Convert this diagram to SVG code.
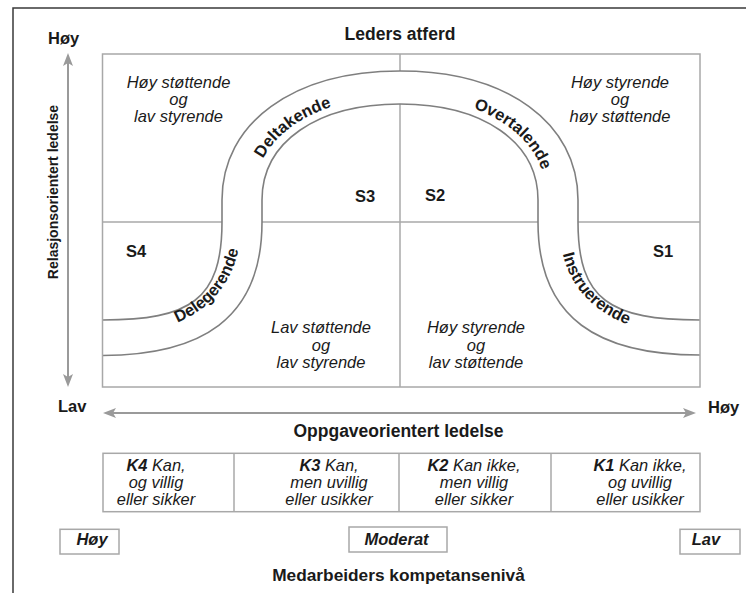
<svg xmlns="http://www.w3.org/2000/svg" width="746" height="593" viewBox="0 0 746 593">
<defs>
<style>
.t{font-family:"Liberation Sans",Arial,sans-serif;fill:#1a1a1a}
.b{font-weight:bold}
.i{font-style:italic}
.grid{stroke:#a8a8a8;stroke-width:1.5;fill:none}
.curve{stroke:#7f7f7f;stroke-width:1.6;fill:none}
.ax{stroke:#9a9a9a;stroke-width:2;fill:none}
.q{font-size:16.5px;text-anchor:middle}
.s{font-size:16.5px;text-anchor:middle}
.band{font-size:16.5px}
.k{font-size:16.4px;text-anchor:middle}
</style>
<marker id="ah" markerUnits="userSpaceOnUse" markerWidth="14" markerHeight="11" refX="3" refY="5" orient="auto-start-reverse" viewBox="0 0 14 10">
<path d="M0,0 L13,5 L0,10 L3,5 z" fill="#9a9a9a"/>
</marker>
<path id="pA" d="M102.5,336 C184,336 241,300 241,222"/>
<path id="pC" d="M253,222 L253,200 C253,138 312,97 400,97"/>
<path id="pC2" d="M400,97 C488,97 547,138 547,200 L547,222"/>
<path id="pA2" d="M559,222 C559,300 616,336 700,336"/>
</defs>
<rect width="746" height="593" fill="#ffffff"/>
<path d="M13,593 L13,8 L746,8" stroke="#3a3a3a" stroke-width="1.5" fill="none"/>

<g id="title">
<text class="t b" x="400" y="39.5" font-size="17.5" text-anchor="middle">Leders atferd</text>
</g>

<g id="grid">
<line class="grid" x1="400" y1="54" x2="400" y2="387"/>
<line class="grid" x1="102.5" y1="222" x2="700" y2="222"/>
</g>

<g id="band">
<path d="M102.5,320 C190,320 222,300 222,222 L222,200 C222,123 293,71 400,71 C507,71 578,123 578,200 L578,222 C578,300 610,320 700,320 L700,355 C600,355 538,320 538,222 L538,200 C538,142 483,104 400,104 C317,104 262,142 262,200 L262,222 C262,320 200,355 102.5,355.5 Z" fill="#ffffff"/>
<path class="curve" d="M102.5,320 C190,320 222,300 222,222 L222,200 C222,123 293,71 400,71 C507,71 578,123 578,200 L578,222 C578,300 610,320 700,320"/>
<path class="curve" d="M102.5,355.5 C200,355 262,320 262,222 L262,200 C262,142 317,104 400,104 C483,104 538,142 538,200 L538,222 C538,320 600,355 700,355"/>
<text class="t b band"><textPath href="#pA" startOffset="62%" text-anchor="middle">Delegerende</textPath></text>
<text class="t b band"><textPath href="#pC" startOffset="49%" text-anchor="middle">Deltakende</textPath></text>
<text class="t b band"><textPath href="#pC2" startOffset="55%" text-anchor="middle">Overtalende</textPath></text>
<text class="t b band"><textPath href="#pA2" startOffset="40%" text-anchor="middle">Instruerende</textPath></text>
</g>

<g id="frame-box">
<rect class="grid" x="102.5" y="54" width="597.5" height="333"/>
</g>

<g id="q-tl">
<text class="t i q" x="178.5" y="88">Høy støttende</text>
<text class="t i q" x="178.5" y="105">og</text>
<text class="t i q" x="178.5" y="122">lav styrende</text>
</g>
<g id="q-tr">
<text class="t i q" x="620" y="88">Høy styrende</text>
<text class="t i q" x="620" y="105">og</text>
<text class="t i q" x="620" y="122">høy støttende</text>
</g>
<g id="q-bl">
<text class="t i q" x="321" y="333">Lav støttende</text>
<text class="t i q" x="321" y="350.5">og</text>
<text class="t i q" x="321" y="368">lav styrende</text>
</g>
<g id="q-br">
<text class="t i q" x="476" y="333">Høy styrende</text>
<text class="t i q" x="476" y="350.5">og</text>
<text class="t i q" x="476" y="368">lav støttende</text>
</g>

<g id="s-labels">
<text class="t b s" x="365" y="202">S3</text>
<text class="t b s" x="435" y="201">S2</text>
<text class="t b s" x="136" y="256.5">S4</text>
<text class="t b s" x="663" y="256.5">S1</text>
</g>

<g id="connectors">
<line class="ax" x1="68" y1="377" x2="68" y2="63" marker-start="url(#ah)" marker-end="url(#ah)"/>
<line class="ax" x1="686" y1="413" x2="113" y2="413" marker-start="url(#ah)" marker-end="url(#ah)"/>
</g>

<g id="axis-labels">
<text class="t b" x="48" y="44" font-size="16.5">Høy</text>
<text class="t b" x="58" y="411.5" font-size="16.5">Lav</text>
<text class="t b" x="708" y="412.5" font-size="16.5">Høy</text>
<text class="t b" transform="translate(57.5,192) rotate(-90)" font-size="14" text-anchor="middle">Relasjonsorientert ledelse</text>
<text class="t b" x="398.5" y="437" font-size="17.5" text-anchor="middle">Oppgaveorientert ledelse</text>
</g>

<g id="k-row">
<rect class="grid" x="103" y="453.3" width="597" height="58.4"/>
<line class="grid" x1="234" y1="453.3" x2="234" y2="511.7"/>
<line class="grid" x1="399" y1="453.3" x2="399" y2="511.7"/>
<line class="grid" x1="551" y1="453.3" x2="551" y2="511.7"/>
<g id="k4">
<text class="t i k" x="156" y="471"><tspan class="b">K4</tspan> Kan,</text>
<text class="t i k" x="156" y="488">og villig</text>
<text class="t i k" x="156" y="505">eller sikker</text>
</g>
<g id="k3">
<text class="t i k" x="329" y="471"><tspan class="b">K3</tspan> Kan,</text>
<text class="t i k" x="329" y="488">men uvillig</text>
<text class="t i k" x="329" y="505">eller usikker</text>
</g>
<g id="k2">
<text class="t i k" x="474" y="471"><tspan class="b">K2</tspan> Kan ikke,</text>
<text class="t i k" x="474" y="488">men villig</text>
<text class="t i k" x="474" y="505">eller sikker</text>
</g>
<g id="k1">
<text class="t i k" x="640" y="471"><tspan class="b">K1</tspan> Kan ikke,</text>
<text class="t i k" x="640" y="488">og uvillig</text>
<text class="t i k" x="640" y="505">eller usikker</text>
</g>
</g>

<g id="level-hoy">
<rect class="grid" x="60" y="529.3" width="59" height="24.7"/>
<text class="t b i" x="92" y="545" font-size="16.5" text-anchor="middle">Høy</text>
</g>
<g id="level-moderat">
<rect class="grid" x="349" y="527" width="98" height="25"/>
<text class="t b i" x="396.5" y="545" font-size="16.5" text-anchor="middle">Moderat</text>
</g>
<g id="level-lav">
<rect class="grid" x="680" y="529.3" width="60" height="24.7"/>
<text class="t b i" x="706" y="545" font-size="16.5" text-anchor="middle">Lav</text>
</g>
<g id="footer">
<text class="t b" x="398.5" y="581" font-size="17.3" text-anchor="middle">Medarbeiders kompetansenivå</text>
</g>
</svg>
